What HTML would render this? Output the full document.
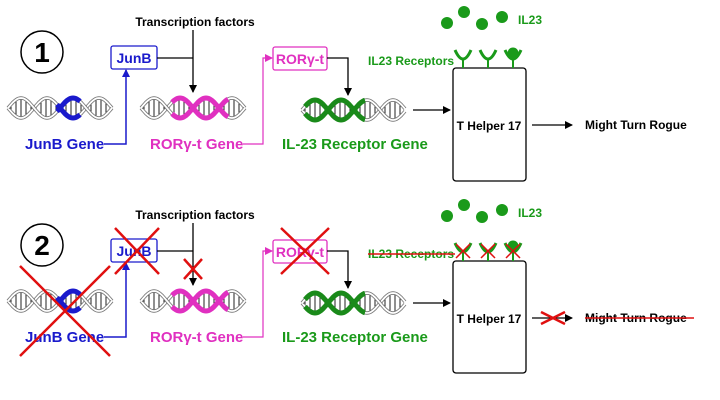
<!DOCTYPE html>
<html><head><meta charset="utf-8"><style>
body{margin:0;background:#fff}
svg{display:block}
text{font-family:"Liberation Sans",sans-serif;font-weight:bold}
</style></head><body>
<svg id="s" width="720" height="400" viewBox="0 0 720 400" xmlns="http://www.w3.org/2000/svg">
<defs>
<marker id="ak" markerWidth="8" markerHeight="8" refX="7" refY="4" orient="auto" markerUnits="userSpaceOnUse" viewBox="0 0 8 8"><path d="M0,0L8,4L0,8z" fill="#000"/></marker>
<marker id="ab" markerWidth="8" markerHeight="8" refX="7" refY="4" orient="auto" markerUnits="userSpaceOnUse" viewBox="0 0 8 8"><path d="M0,0L8,4L0,8z" fill="#1a1acc"/></marker>
<marker id="ap" markerWidth="8" markerHeight="8" refX="7" refY="4" orient="auto" markerUnits="userSpaceOnUse" viewBox="0 0 8 8"><path d="M0,0L8,4L0,8z" fill="#e030c0"/></marker>
</defs>
<g id="g"></g>
</svg>
<script>
var g=document.getElementById('g');var h='';
function dna(x0,x1,yc,cs,ce,col){var amp=10,per=52;var a='',b='';
 for(var x=x0;x<=x1;x+=1){var y1=yc+amp*Math.sin((x-x0)/per*2*Math.PI),y2=yc-amp*Math.sin((x-x0)/per*2*Math.PI);a+=(x==x0?'M':'L')+x+','+y1.toFixed(1);b+=(x==x0?'M':'L')+x+','+y2.toFixed(1);}
 for(var x=x0+3;x<x1;x+=5){var s=amp*Math.sin((x-x0)/per*2*Math.PI);h+='<line x1="'+x+'" y1="'+(yc-s)+'" x2="'+x+'" y2="'+(yc+s)+'" stroke="#222" stroke-width="1"/>';}
 h+='<path d="'+a+'" fill="none" stroke="#777" stroke-width="3.5"/><path d="'+a+'" fill="none" stroke="#fff" stroke-width="1.8"/>';
 h+='<path d="'+b+'" fill="none" stroke="#777" stroke-width="3.5"/><path d="'+b+'" fill="none" stroke="#fff" stroke-width="1.8"/>';
 var c='',d='';for(var x=cs;x<=ce;x+=1){var y1=yc+amp*Math.sin((x-x0)/per*2*Math.PI),y2=yc-amp*Math.sin((x-x0)/per*2*Math.PI);c+=(x==cs?'M':'L')+x+','+y1.toFixed(1);d+=(x==cs?'M':'L')+x+','+y2.toFixed(1);}
 h+='<path d="'+c+'" fill="none" stroke="'+col+'" stroke-width="5"/><path d="'+d+'" fill="none" stroke="'+col+'" stroke-width="5"/>';}
function X(x,y,w,hh,sw){h+='<path d="M'+(x-w)+','+(y-hh)+'L'+(x+w)+','+(y+hh)+'M'+(x+w)+','+(y-hh)+'L'+(x-w)+','+(y+hh)+'" stroke="#e01010" stroke-width="'+(sw||2.5)+'"/>';}
function panel(o,n,bad){
 h+='<circle cx="42" cy="'+(52+o)+'" r="21" fill="none" stroke="#000" stroke-width="1.5"/><text x="42" y="'+(62+o)+'" font-size="28" text-anchor="middle">'+n+'</text>';
 h+='<text x="195" y="'+(26+o)+'" font-size="12" text-anchor="middle">Transcription factors</text>';
 h+='<path d="M193,'+(30+o)+'V'+(92+o)+'" stroke="#000" stroke-width="1.3" marker-end="url(#ak)"/>';
 h+='<rect x="111" y="'+(46+o)+'" width="46" height="23" rx="2" fill="#fff" stroke="#1a1acc" stroke-width="1.3"/><text x="134" y="'+(63+o)+'" font-size="14" fill="#1a1acc" text-anchor="middle">JunB</text>';
 h+='<path d="M157,'+(58+o)+'H193" stroke="#000" stroke-width="1.3" fill="none"/>';
 dna(8,112,108+o,57,80,'#1a1acc');
 h+='<text x="25" y="'+(149+o)+'" font-size="15" fill="#1a1acc">JunB Gene</text>';
 h+='<path d="M104,'+(144+o)+'H126V'+(70+o)+'" stroke="#1a1acc" stroke-width="1.5" fill="none" marker-end="url(#ab)"/>';
 dna(141,245,108+o,172,228,'#e030c0');
 h+='<text x="150" y="'+(149+o)+'" font-size="15" fill="#e030c0">ROR&#947;-t Gene</text>';
 h+='<path d="M243,'+(144+o)+'H263V'+(58+o)+'H272" stroke="#e030c0" stroke-width="1.2" fill="none" marker-end="url(#ap)"/>';
 h+='<rect x="273" y="'+(47+o)+'" width="54" height="23" rx="2" fill="#fff" stroke="#e030c0" stroke-width="1.3"/><text x="300" y="'+(64+o)+'" font-size="14" fill="#e030c0" text-anchor="middle">ROR&#947;-t</text>';
 h+='<path d="M327,'+(58+o)+'H348V'+(95+o)+'" stroke="#000" stroke-width="1.3" fill="none" marker-end="url(#ak)"/>';
 dna(302,405,110+o,305,365,'#1a8a1a');
 h+='<text x="282" y="'+(149+o)+'" font-size="15" fill="#1a9a1a">IL-23 Receptor Gene</text>';
 h+='<path d="M413,'+(110+o)+'H450" stroke="#000" stroke-width="1.3" marker-end="url(#ak)"/>';
 h+='<rect x="453" y="'+(68+o)+'" width="73" height="'+(bad?112:113)+'" rx="3" fill="#fff" stroke="#000" stroke-width="1.3"/>';
 h+='<text x="489" y="'+(130+o)+'" font-size="12" text-anchor="middle">T Helper 17</text>';
 h+='<path d="M532,'+(125+o)+'H572" stroke="#000" stroke-width="1.3" marker-end="url(#ak)"/>';
 h+='<text x="585" y="'+(129+o)+'" font-size="12">Might Turn Rogue</text>';
 [[447,23],[464,12],[482,24],[502,17]].forEach(function(p){h+='<circle cx="'+p[0]+'" cy="'+(p[1]+o)+'" r="6" fill="#1a9a1a"/>';});
 h+='<text x="518" y="'+(24+o)+'" font-size="12" fill="#1a9a1a">IL23</text>';
 h+='<text x="368" y="'+(65+o)+'" font-size="12" fill="#1a9a1a">IL23 Receptors</text>';
 [463,488,513].forEach(function(x,i){if(i==2)h+='<circle cx="'+x+'" cy="'+(53+o)+'" r="5.5" fill="#1a9a1a"/>';h+='<path d="M'+(x-8)+','+(50+o)+'Q'+x+','+(68+o)+' '+(x+8)+','+(50+o)+'" fill="none" stroke="#1a9a1a" stroke-width="3"/><line x1="'+x+'" y1="'+(59+o)+'" x2="'+x+'" y2="'+(68+o)+'" stroke="#1a9a1a" stroke-width="2"/>';});
 if(bad){
  X(65,311,45,45,2.5);X(137,251,22,23,2.5);X(193,269,9,10,2.5);X(305,251,24,23,2.5);
  [463,488,513].forEach(function(x){X(x,o+58,7,7,1.5);});
  h+='<line x1="368" y1="'+(61+o)+'" x2="455" y2="'+(61+o)+'" stroke="#e01010" stroke-width="1.5"/>';
  h+='<line x1="585" y1="'+(125+o)+'" x2="694" y2="'+(125+o)+'" stroke="#e01010" stroke-width="1.5"/>';
  X(553,o+125,12,6,2.5);
 }
}
panel(0,'1',false);panel(193,'2',true);
g.innerHTML=h;
</script>
</body></html>
